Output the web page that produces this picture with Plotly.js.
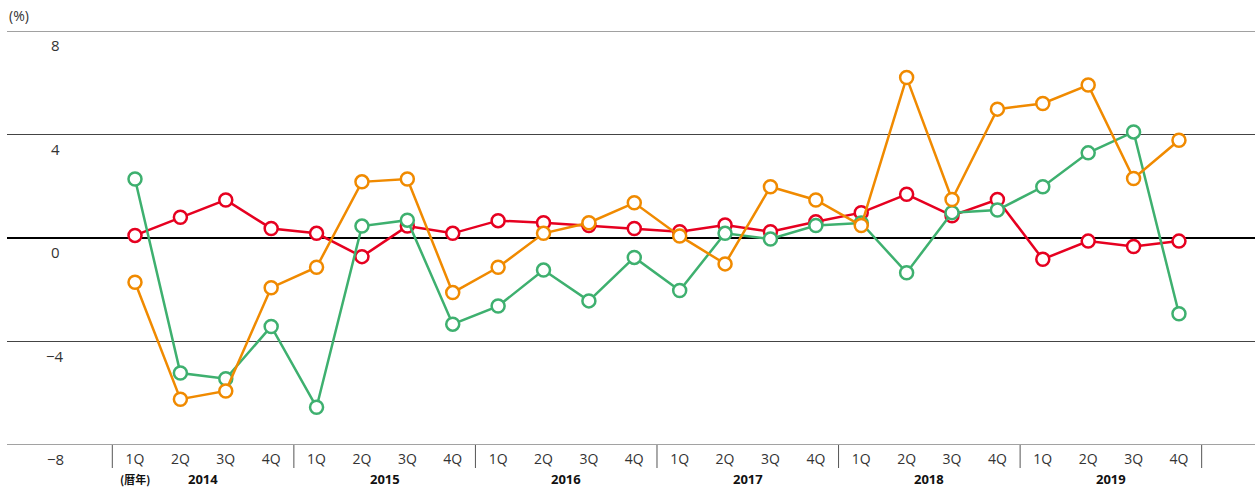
<!DOCTYPE html>
<html>
<head>
<meta charset="utf-8">
<script src="https://cdn.plot.ly/plotly-3.0.1.min.js"></script>
<style>
html,body{margin:0;padding:0;background:#fff;}
#chart{width:1255px;height:488px;}
</style>
</head>
<body>
<div id="chart"></div>
<script>
const quarters = ["1Q","2Q","3Q","4Q","1Q","2Q","3Q","4Q","1Q","2Q","3Q","4Q","1Q","2Q","3Q","4Q","1Q","2Q","3Q","4Q","1Q","2Q","3Q","4Q"];
const years = ["2014","2015","2016","2017","2018","2019"];
const yTicks = [8, 4, 0, -4, -8];
const yTickLabels = ["8", "4", "0", "\u22124", "\u22128"];

const redSeries = [0.1, 0.8, 1.47, 0.37, 0.18, -0.72, 0.46, 0.18, 0.67, 0.59, 0.48, 0.37, 0.24, 0.5, 0.24, 0.63, 0.98, 1.69, 0.86, 1.49, -0.82, -0.12, -0.33, -0.12];
const orangeSeries = [-1.71, -6.23, -5.91, -1.92, -1.13, 2.17, 2.28, -2.11, -1.13, 0.18, 0.59, 1.36, 0.08, -1.0, 1.98, 1.47, 0.48, 6.2, 1.49, 4.98, 5.2, 5.91, 2.3, 3.78];
const greenSeries = [2.28, -5.22, -5.44, -3.42, -6.54, 0.46, 0.69, -3.33, -2.63, -1.24, -2.43, -0.75, -2.03, 0.18, -0.04, 0.48, 0.58, -1.34, 0.98, 1.08, 1.98, 3.29, 4.1, -2.93];

const idx = quarters.map((q, i) => i);

function series(y, color) {
  return {
    x: idx, y: y, type: 'scatter', mode: 'lines+markers',
    line: {color: color, width: 2.5},
    marker: {symbol: 'circle', size: 13, color: '#ffffff', line: {color: color, width: 2.5}},
    hoverinfo: 'skip', showlegend: false, cliponaxis: false
  };
}

const traces = [
  series(redSeries, '#e60020'),
  series(greenSeries, '#3eb06f'),
  series(orangeSeries, '#f08a00')
];

const W = 1255, H = 488;
const mL = 7, mR = 0, mT = 31, mB = 43;
const plotW = W - mL - mR;
const pxPerQ = 45.39;
const x0px = 135;
const xMin = -(x0px - mL) / pxPerQ;
const xMax = xMin + plotW / pxPerQ;
const plotH = H - mT - mB;

const fontMain = 'Open Sans, Noto Sans, sans-serif';
const annotations = [];
yTicks.forEach((v, i) => {
  annotations.push({
    xref: 'paper', yref: 'y', x: (55 - mL) / plotW, y: v, yshift: -14,
    text: yTickLabels[i], showarrow: false, xanchor: 'center', yanchor: 'middle',
    font: {family: fontMain, size: 15, color: '#333333'}
  });
});
annotations.push({
  xref: 'paper', yref: 'paper', x: 0, y: 1 + 16 / plotH,
  text: '(%)', showarrow: false, xanchor: 'left', yanchor: 'middle',
  font: {family: fontMain, size: 14, color: '#333333'}
});
years.forEach((yr, k) => {
  annotations.push({
    xref: 'x', yref: 'paper', x: 4 * k + 1.5, y: -34 / plotH,
    text: '<b>' + yr + '</b>', showarrow: false, xanchor: 'center', yanchor: 'middle',
    font: {family: fontMain, size: 13, color: '#111111'}
  });
});
annotations.push({
  xref: 'x', yref: 'paper', x: 0, y: -34 / plotH,
  text: '<b>(暦年)</b>', showarrow: false, xanchor: 'center', yanchor: 'middle',
  font: {family: 'Noto Sans CJK JP, sans-serif', size: 11, color: '#111111'}
});

const shapes = [];
for (let k = 0; k <= years.length; k++) {
  shapes.push({
    type: 'line', xref: 'x', yref: 'paper', x0: 4 * k - 0.5, x1: 4 * k - 0.5,
    y0: 0, y1: -23 / plotH, line: {color: '#555555', width: 1}
  });
}
[yTicks[0], yTicks[yTicks.length - 1]].forEach(v => {
  shapes.push({
    type: 'line', xref: 'paper', yref: 'y', x0: 0, x1: 1, y0: v, y1: v,
    line: {color: '#444444', width: 1}, layer: 'below'
  });
});

const layout = {
  width: W, height: H,
  margin: {l: mL, r: mR, t: mT, b: mB, pad: 0},
  paper_bgcolor: '#ffffff', plot_bgcolor: '#ffffff',
  xaxis: {
    range: [xMin, xMax], tickmode: 'array', tickvals: idx, ticktext: quarters,
    showgrid: false, zeroline: false, showline: false, ticks: '',
    ticklabelstandoff: 4,
    tickfont: {family: fontMain, size: 14, color: '#333333'},
    fixedrange: true
  },
  yaxis: {
    range: [-8, 8], tickmode: 'array', tickvals: yTicks, showticklabels: false,
    showgrid: true, gridcolor: '#444444', gridwidth: 1,
    zeroline: true, zerolinecolor: '#000000', zerolinewidth: 2,
    showline: false, ticks: '', fixedrange: true
  },
  annotations: annotations,
  shapes: shapes,
  showlegend: false
};

Plotly.newPlot('chart', traces, layout, {displayModeBar: false, staticPlot: true});
</script>
</body>
</html>
